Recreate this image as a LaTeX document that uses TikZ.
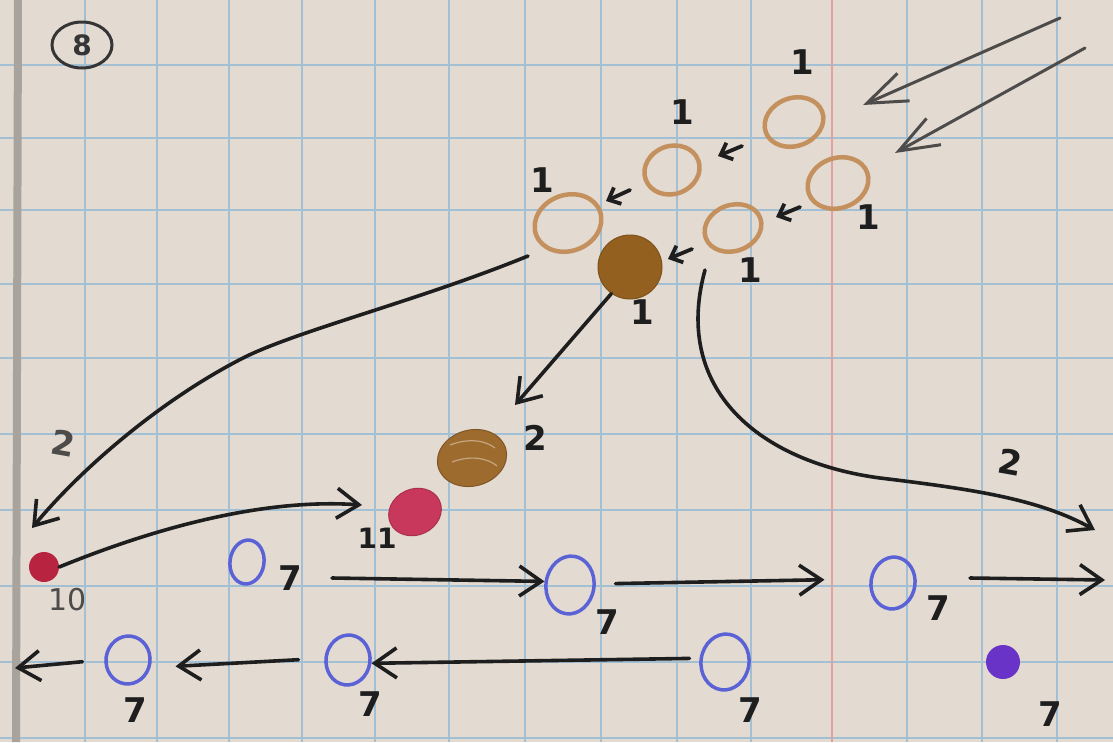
\documentclass[tikz,border=0pt]{standalone}
\usepackage{fontspec}
\setmainfont{DejaVu Sans}
\usetikzlibrary{arrows.meta,shapes.geometric,calc}
\definecolor{paper}{HTML}{E3DAD2}
\definecolor{gridblue}{HTML}{A3BFD4}
\definecolor{margred}{HTML}{E3A0A0}
\definecolor{edgegrey}{HTML}{A9A39D}
\definecolor{ink}{HTML}{1E1E1E}
\definecolor{pencil}{HTML}{4E4C4A}
\definecolor{tanring}{HTML}{C4915E}
\definecolor{dbrown}{HTML}{93601F}
\definecolor{mbrown}{HTML}{9E6B2E}
\definecolor{crimson}{HTML}{C8375C}
\definecolor{dred}{HTML}{B8233F}
\definecolor{penblue}{HTML}{5B62D6}
\definecolor{purp}{HTML}{6A33C8}
\begin{document}
\begin{tikzpicture}[x=1pt,y=-1pt,
  ring/.style={ellipse,draw=tanring,line width=4.5pt,inner sep=0pt,rotate=20},
  bluering/.style={ellipse,draw=penblue,line width=3.5pt,inner sep=0pt},
  lbl/.style={text=ink,font=\fontsize{34}{34}\selectfont\bfseries,inner sep=0pt},
  inkline/.style={draw=ink,line width=3.6pt,line cap=round},
  inkarrow/.style={inkline,-{Straight Barb[length=22pt,width=30pt]}},
  smallarrow/.style={inkline,line width=3.8pt,-{Straight Barb[length=10pt,width=18pt]}},
  pencilarrow/.style={draw=pencil,line width=3pt,line cap=round,-{Straight Barb[length=40pt,width=30pt]}}
]
% paper
\fill[paper] (0,0) rectangle (1113,742);
\useasboundingbox (0,0) rectangle (1113,742);
\foreach \x in {85,157,229,302,375,449,525,601,677,751,907,982,1057}
  \draw[gridblue,line width=1.2pt] (\x,0) -- (\x,742);
\foreach \y in {65,138,210,284,358,434,510,586,662,738}
  \draw[gridblue,line width=1.2pt] (0,\y) -- (1113,\y);
\draw[margred,line width=1.3pt] (832,0) -- (832,742);
\draw[edgegrey,line width=8pt] (18,0) -- (16,742);

% circled 8
\node[draw=ink!90,ellipse,line width=3pt,minimum width=60pt,minimum height=46pt,inner sep=0pt,
      font=\fontsize{28}{28}\selectfont\bfseries,text=ink!90] (eight) at (82,45) {8};

% brown rings
\node[ring,minimum width=68pt,minimum height=56pt] (A) at (568,223) {};
\node[ring,minimum width=56pt,minimum height=48pt] (B) at (672,170) {};
\node[ring,minimum width=60pt,minimum height=48pt] (C) at (794,122) {};
\node[ring,minimum width=62pt,minimum height=50pt] (D) at (838,183) {};
\node[ring,minimum width=58pt,minimum height=46pt] (E) at (733,228) {};
\node[circle,fill=dbrown,draw=dbrown!85!black,line width=1pt,minimum size=64pt,inner sep=0pt] (F) at (630,267) {};
\node[ellipse,fill=mbrown,draw=mbrown!80!black,line width=1pt,minimum width=70pt,minimum height=56pt,inner sep=0pt,rotate=15] (G) at (472,458) {};
\draw[mbrown!60!white,line width=1.2pt] (450,445) .. controls (468,438) and (485,440) .. (495,448)
  (452,462) .. controls (470,455) and (488,458) .. (497,466);
\node[ellipse,fill=crimson,draw=crimson!85!black,line width=1pt,minimum width=54pt,minimum height=46pt,inner sep=0pt,rotate=25] (H) at (415,512) {};
\node[circle,fill=dred,minimum size=30pt,inner sep=0pt] (I) at (44,567) {};

% blue rings
\node[bluering,minimum width=34pt,minimum height=44pt,rotate=-8] (J) at (247,562) {};
\node[bluering,minimum width=48pt,minimum height=58pt,rotate=-8] (K) at (570,585) {};
\node[bluering,minimum width=44pt,minimum height=52pt,rotate=-8] (L) at (893,583) {};
\node[bluering,minimum width=48pt,minimum height=56pt,rotate=-8] (M) at (725,662) {};
\node[bluering,minimum width=44pt,minimum height=50pt,rotate=-8] (N) at (348,660) {};
\node[bluering,minimum width=44pt,minimum height=48pt,rotate=-8] (O) at (128,660) {};
\node[circle,fill=purp,minimum size=34pt,inner sep=0pt] (P) at (1003,662) {};

% labels
\node[lbl] (lA) at (542,180) {1};
\node[lbl] (lB) at (682,112) {1};
\node[lbl] (lC) at (802,62) {1};
\node[lbl] (lD) at (868,217) {1};
\node[lbl] (lE) at (750,270) {1};
\node[lbl] (lF) at (642,312) {1};
\node[lbl] (lG) at (535,438) {2};
\node[lbl,font=\fontsize{28}{28}\selectfont\bfseries] (lH) at (377,538) {11};
\node[lbl,text=pencil,font=\fontsize{30}{30}\selectfont] (lI) at (68,600) {10};
\node[lbl] (lJ) at (290,578) {7};
\node[lbl] (lK) at (607,622) {7};
\node[lbl] (lL) at (938,608) {7};
\node[lbl] (lM) at (750,710) {7};
\node[lbl] (lN) at (370,704) {7};
\node[lbl] (lO) at (135,710) {7};
\node[lbl] (lP) at (1050,714) {7};
\node[lbl,text=pencil,rotate=-10] (two1) at (63,443) {2};
\node[lbl,rotate=-10] (two2) at (1010,462) {2};

% free ends
\coordinate (t1s) at (1060,18);  \coordinate (t1e) at (863,105);
\coordinate (t2s) at (1085,48);  \coordinate (t2e) at (895,153);
\coordinate (aS) at (528,256);   \coordinate (aK) at (245,357);  \coordinate (aE) at (32,528);
\coordinate (fS) at (705,270);   \coordinate (fK) at (880,478);  \coordinate (fE) at (1095,530);
\coordinate (gE) at (515,405);
\coordinate (hE) at (362,505);
\coordinate (rE) at (1105,580);
\coordinate (oE) at (15,668);

% incoming arrows
\draw[pencilarrow] (t1s) -- (t1e);
\draw[pencilarrow] (t2s) -- (t2e);

% small arrows between rings
\draw[smallarrow] (742,146) -- (718,156);
\draw[smallarrow] (630,190) -- (606,201);
\draw[smallarrow] (800,207) -- (776,217);
\draw[smallarrow] (692,249) -- (668,259);

% curves
\draw[inkarrow] (aS) .. controls (420,300) and (300,330) .. (aK)
                     .. controls (160,400) and (80,470) .. (aE);
\draw[inkarrow] (fS) .. controls (672,390) and (760,462) .. (fK)
                     .. controls (980,490) and (1040,500) .. (fE);
\draw[inkarrow] (F.235) -- (gE);
\draw[inkarrow] (I.east) .. controls (150,530) and (260,498) .. (hE);

% middle row
\draw[inkarrow] ($(lJ.east)+(30,0)$) -- (K.west);
\draw[inkarrow] ($(K.east)+(20,-5)$) -- ($(L.west)+(-45,0)$);
\draw[inkarrow] ($(lL.east)+(20,-30)$) -- (rE);

% bottom row
\draw[inkarrow] ($(M.west)+(-10,0)$) -- (N.east);
\draw[inkarrow] ($(N.west)+(-26,3)$) -- ($(O.east)+(24,3)$);
\draw[inkarrow] ($(O.west)+(-22,5)$) -- (oE);
\end{tikzpicture}
\end{document}
